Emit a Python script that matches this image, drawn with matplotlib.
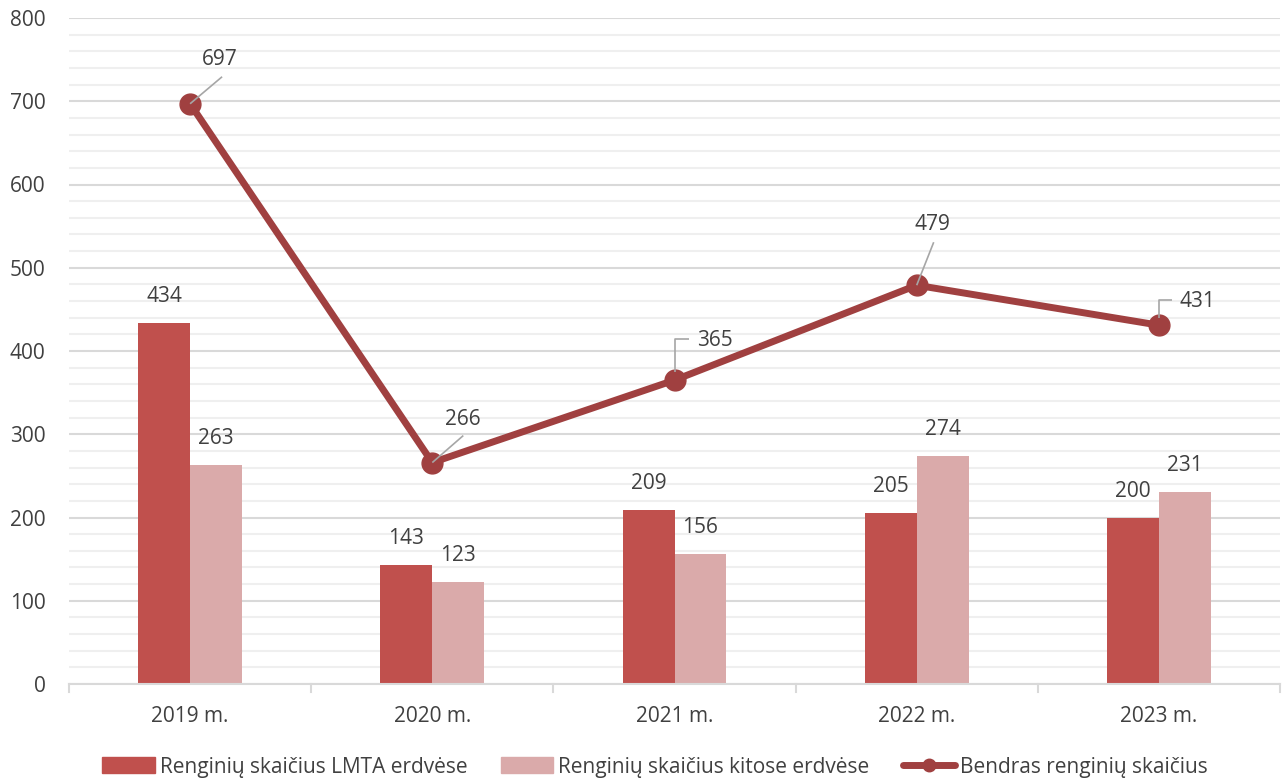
import matplotlib
matplotlib.use("Agg")
import matplotlib.pyplot as plt
from matplotlib.lines import Line2D
from matplotlib.patches import Patch
import numpy as np

categories = ["2019 m.", "2020 m.", "2021 m.", "2022 m.", "2023 m."]
lmta = [434, 143, 209, 205, 200]
kitos = [263, 123, 156, 274, 231]
bendras = [697, 266, 365, 479, 431]
y_ticks = [0, 100, 200, 300, 400, 500, 600, 700, 800]

c_lmta = "#C0504D"
c_kitos = "#DAAAAA"
c_line = "#A04040"
c_text = "#404040"
c_grid = "#D9D9D9"
c_minor = "#EFEFEF"
c_leader = "#A6A6A6"

plt.rcParams['font.family'] = ['Open Sans', 'DejaVu Sans']
FS = 15

fig = plt.figure(figsize=(12.87, 7.8), dpi=100)
ax = fig.add_axes([69/1287, 96/780, 1211/1287, 666/780])

x = np.arange(len(categories))
w = 0.214
ax.bar(x - w/2, lmta, w, color=c_lmta, zorder=2)
ax.bar(x + w/2, kitos, w, color=c_kitos, zorder=2)
ax.plot(x, bendras, color=c_line, lw=5, marker='o', ms=15, zorder=3,
        solid_capstyle='round')

for xi, v in zip(x, lmta):
    ax.annotate(str(v), (xi - w/2, v), xytext=(0, 19), textcoords='offset points',
                ha='center', va='center', fontsize=FS, color=c_text)
for xi, v in zip(x, kitos):
    ax.annotate(str(v), (xi + w/2, v), xytext=(0, 19), textcoords='offset points',
                ha='center', va='center', fontsize=FS, color=c_text)

ax.set_xlim(-0.5, len(categories) - 0.5)
ax.set_ylim(0, 800)

# line labels with leader lines (offsets in pixels)
px = 0.72
label_offsets = [(30, 44), (31, 43), (40, 40), (16, 61), (39, 24)]
leaders = [
    [(0, 0), (32, 27)],
    [(0, 0), (31, 27)],
    [(0, 8), (0, 41), (14, 41)],
    [(0, 0), (17, 43)],
    [(0, 7), (0, 25), (13, 25)],
]
for i, (xi, v) in enumerate(zip(x, bendras)):
    dx, dy = label_offsets[i]
    ax.annotate(str(v), (xi, v), xytext=(dx*px, dy*px), textcoords='offset points',
                ha='center', va='center', fontsize=FS, color=c_text, zorder=5)
    base = ax.transData.transform((xi, v))
    pts = np.array([(base[0] + lx, base[1] + ly) for (lx, ly) in leaders[i]])
    data_pts = ax.transData.inverted().transform(pts)
    ax.plot(data_pts[:, 0], data_pts[:, 1], color=c_leader, lw=1.2, zorder=6,
            clip_on=False, solid_capstyle='butt')

ax.set_yticks(y_ticks)
ax.set_yticks(np.arange(0, 801, 20), minor=True)
ax.set_xticks(x)
ax.set_xticklabels(categories)
ax.tick_params(axis='x', length=0, pad=16, labelsize=FS, labelcolor=c_text)
ax.tick_params(axis='y', which='both', length=0, pad=17, labelsize=FS, labelcolor=c_text)
ax.grid(axis='y', which='major', color=c_grid, lw=1.5, zorder=0)
ax.grid(axis='y', which='minor', color=c_minor, lw=1.5, zorder=0)
ax.set_axisbelow(True)
for s in ['top', 'right', 'left']:
    ax.spines[s].set_visible(False)
ax.spines['bottom'].set_color(c_grid)
ax.spines['bottom'].set_linewidth(1.5)

# category separator ticks
for b in np.arange(-0.5, len(categories), 1.0):
    ax.plot([b, b], [0, -0.012], transform=ax.get_xaxis_transform(), color=c_grid,
            lw=1.5, clip_on=False)

handles = [Patch(color=c_lmta), Patch(color=c_kitos),
           Line2D([], [], color=c_line, lw=5, marker='o', ms=9, solid_capstyle='round')]
labels = ["Renginių skaičius LMTA erdvėse", "Renginių skaičius kitose erdvėse",
          "Bendras renginių skaičius"]
fig.legend(handles, labels, loc='center', bbox_to_anchor=(655/1287, 1 - 767/780),
           ncol=3, frameon=False, fontsize=FS, handlelength=2.5, handleheight=0.8,
           handletextpad=0.25, columnspacing=1.6, labelcolor=c_text)

fig.savefig("out.png", dpi=100)
